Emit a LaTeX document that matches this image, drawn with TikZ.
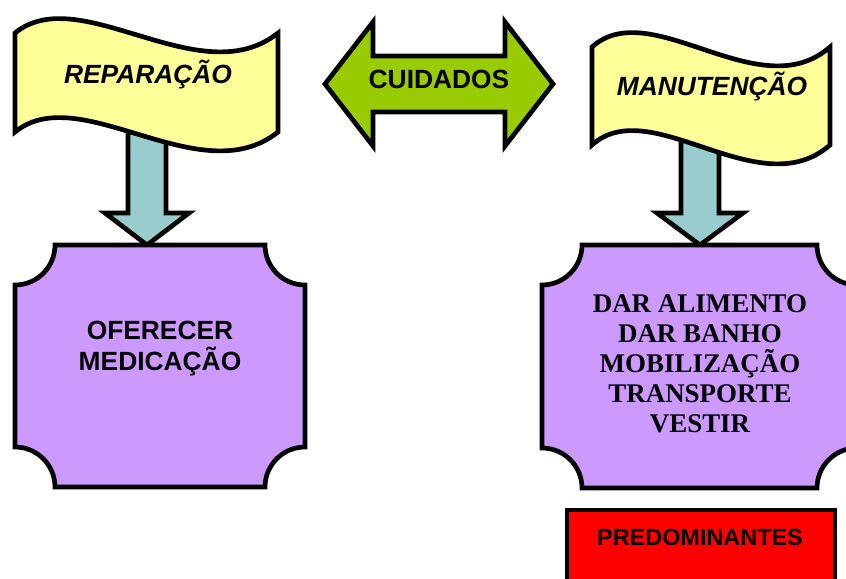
\documentclass[tikz,border=0pt]{standalone}
\usepackage{fontspec}
\setmainfont{Liberation Sans}
\newfontfamily\timesfont{Liberation Serif}
\usepackage{tikz}
\usetikzlibrary{calc}
\definecolor{flagyellow}{HTML}{FFFF99}
\definecolor{stemteal}{HTML}{99CCCC}
\definecolor{careggreen}{HTML}{99CC00}
\definecolor{boxlilac}{HTML}{CC99FF}

\begin{document}
\begin{tikzpicture}[x=0.03cm,y=-0.03cm,line width=4pt,line join=miter]
%\draw[gray,very thin] (0,0) grid[step=50] (846,578);
\tikzstyle{flag}=[draw,fill=flagyellow]
\tikzstyle{stem}=[draw,fill=stemteal]
\tikzstyle{task}=[draw,fill=boxlilac]
\tikzstyle{label}=[font=\fontsize{22.5}{26}\selectfont\bfseries,align=center]
\useasboundingbox (0,0) rectangle (846,578);
%Stems under the flags
\path[stem] (128,120) -- (128,213) -- (105,213) -- (147,245) -- (189,213) -- (166,213) -- (166,120) -- cycle;
\path[stem] (681,135) -- (681,213) -- (657,213) -- (700,245) -- (743,213) -- (719,213) -- (719,135) -- cycle;
%Flags
\path[flag] (15,33) -- (15,132) .. controls (80,79) and (200,194) .. (278,132)
   -- (278,33) .. controls (200,95) and (80,-20) .. (15,33) -- cycle;
\path[flag] (592,47) -- (592,145) .. controls (651,92) and (759,207) .. (830,145)
   -- (830,47) .. controls (759,109) and (651,-6) .. (592,47) -- cycle;
%Boxes with cut corners
\path[task] (55,245) -- (265,245) arc[start angle=180,end angle=90,radius=40]
   -- (305,447) arc[start angle=270,end angle=180,radius=40]
   -- (55,487) arc[start angle=0,end angle=-90,radius=40]
   -- (15,285) arc[start angle=90,end angle=0,radius=40] -- cycle;
\path[task] (582,245) -- (817,245) arc[start angle=180,end angle=90,radius=40]
   -- (857,448) arc[start angle=270,end angle=180,radius=40]
   -- (582,488) arc[start angle=0,end angle=-90,radius=40]
   -- (542,285) arc[start angle=90,end angle=0,radius=40] -- cycle;
\path[draw,fill=red] (567,510) rectangle (835,600);
%Double arrow
\path[draw,fill=careggreen] (325,84) -- (373,22) -- (373,56) -- (505,56) -- (505,22) -- (553,84)
   -- (505,146) -- (505,112) -- (373,112) -- (373,146) -- cycle;
%Texts
\node[label,anchor=base,font=\fontsize{22.5}{26}\selectfont\bfseries\itshape] (rep) at (148,83) {REPARAÇÃO};
\node[label,anchor=base,font=\fontsize{22.5}{26}\selectfont\bfseries\itshape] (man) at (712,95) {MANUTENÇÃO};
\node[label,anchor=base] (cuid) at (439,88) {CUIDADOS};
\node[label,anchor=base] (ofer) at (160,370) {OFERECER\\MEDICAÇÃO};
\node[label,anchor=base,font=\fontsize{23}{25.6}\selectfont\timesfont\bfseries] (tarefas) at (700,432)
   {DAR ALIMENTO\\DAR BANHO\\MOBILIZAÇÃO\\TRANSPORTE\\VESTIR};
\node[label,anchor=base,font=\fontsize{20}{24}\selectfont\bfseries] (pred) at (700,545) {PREDOMINANTES};
\end{tikzpicture}
\end{document}
